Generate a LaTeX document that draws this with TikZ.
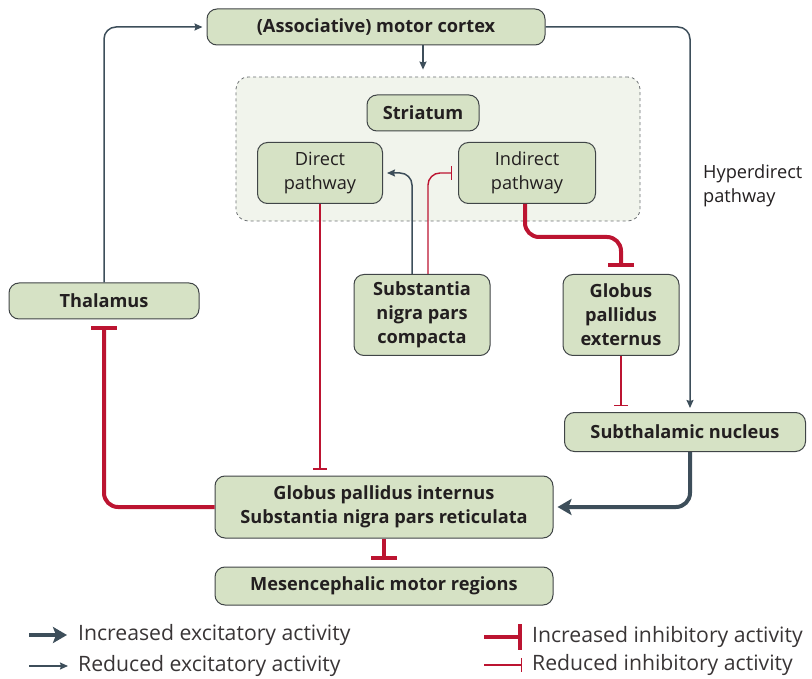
\documentclass[tikz,border=0pt]{standalone}
\usepackage{fontspec}
\setmainfont{Open Sans}
\usetikzlibrary{arrows.meta}
\definecolor{BoxFill}{HTML}{D6E2C5}
\definecolor{BoxLine}{HTML}{404547}
\definecolor{ZoneFill}{HTML}{F1F4EC}
\definecolor{ZoneLine}{HTML}{6B6F72}
\definecolor{Excite}{HTML}{3D4E5A}
\definecolor{Inhibit}{HTML}{BC1431}
\definecolor{Ink}{HTML}{231F20}
\tikzset{
  region/.style={rectangle, rounded corners=10pt, draw=BoxLine, line width=1pt,
    fill=BoxFill, align=center, inner sep=0pt, text=Ink,
    font=\bfseries\fontsize{18.2}{24}\selectfont},
  route/.style={region, font=\fontsize{18.2}{24}\selectfont},
  zone/.style={rectangle, rounded corners=12pt, draw=ZoneLine, dashed,
    line width=0.8pt, fill=ZoneFill},
  exstrong/.style={-{Stealth[length=14pt,width=16pt,inset=3pt]}, line width=4pt,
    draw=Excite, rounded corners=14pt, shorten >=4pt},
  exweak/.style={-{Stealth[length=8pt,width=7pt,inset=1pt]}, line width=1.5pt,
    draw=Excite, rounded corners=12pt, shorten >=4pt},
  instrong/.style={-{Bar[width=26pt]}, line width=4pt, draw=Inhibit,
    rounded corners=14pt, shorten >=7pt},
  inweak/.style={-{Bar[width=14pt]}, line width=1.4pt, draw=Inhibit,
    rounded corners=12pt, shorten >=6pt},
  legend/.style={anchor=west, inner sep=0pt, text=Ink!90,
    font=\fontsize{21.2}{24}\selectfont}
}
\begin{document}
\begin{tikzpicture}[x=1pt, y={(0pt,-1pt)}]
  \useasboundingbox (0,0) rectangle (812,679);

  \node[zone, minimum width=404pt, minimum height=144pt] (zone) at (438,149) {};
  \node[region, minimum width=338pt, minimum height=36pt] (cortex) at (376,27) {(Associative) motor cortex};
  \node[region, minimum width=112pt, minimum height=36pt] (striatum) at (423,113) {Striatum};
  \node[route, minimum width=125pt, minimum height=61pt] (direct) at (320,173) {Direct\\pathway};
  \node[route, minimum width=137pt, minimum height=61pt] (indirect) at (527,173) {Indirect\\pathway};
  \node[region, minimum width=190pt, minimum height=36pt] (thalamus) at (104,301) {Thalamus};
  \node[region, minimum width=136pt, minimum height=81pt] (snc) at (422,315) {Substantia\\nigra pars\\compacta};
  \node[region, minimum width=116pt, minimum height=81pt] (gpe) at (621,315) {Globus\\pallidus\\externus};
  \node[region, minimum width=241pt, minimum height=39pt] (stn) at (685,432) {Subthalamic nucleus};
  \node[region, minimum width=338pt, minimum height=62pt] (gpi) at (384,507) {Globus pallidus internus\\Substantia nigra pars reticulata};
  \node[region, minimum width=338pt, minimum height=38pt] (mesen) at (384,586) {Mesencephalic motor regions};
  \node[anchor=west, align=left, inner sep=0pt, text=Ink, font=\fontsize{18.2}{24}\selectfont] (hyper) at (703,186) {Hyperdirect\\pathway};

  \draw[exweak] (cortex.south -| striatum.north) -- ([yshift=3pt]zone.north -| striatum.north);
  \draw[exweak] (thalamus.north) |- (cortex.west);
  \draw[exweak] (cortex.east) -| ([xshift=5pt]stn.north);
  \draw[inweak] (direct.south) -- (direct.south |- gpi.north);
  \draw[exweak] ([xshift=-10pt]snc.north) |- (direct.east);
  \draw[inweak] ([xshift=6pt]snc.north) |- (indirect.west);
  \draw[instrong] ([xshift=-2pt]indirect.south) -- ++(0,33) -| (gpe.north);
  \draw[inweak] (gpe.south) -- (gpe.south |- stn.north);
  \draw[exstrong] ([xshift=5pt]stn.south) |- (gpi.east);
  \draw[instrong] (gpi.west) -| (thalamus.south);
  \draw[instrong] (gpi.south) -- (mesen.north);

  % key
  \coordinate (keyA) at (29,635);
  \coordinate (keyB) at (29,666);
  \coordinate (keyC) at (484,637);
  \coordinate (keyD) at (484,665);
  \node[legend] (keyAtext) at (78,635) {Increased excitatory activity};
  \node[legend] (keyBtext) at (78,666) {Reduced excitatory activity};
  \node[legend] (keyCtext) at (532,637) {Increased inhibitory activity};
  \node[legend] (keyDtext) at (532,665) {Reduced inhibitory activity};
  \draw[exstrong, shorten >=0pt] (keyA) -- ([xshift=-11pt]keyAtext.west);
  \draw[exweak, shorten >=0pt] (keyB) -- ([xshift=-10pt]keyBtext.west);
  \draw[instrong, shorten >=0pt] (keyC) -- ([xshift=-10pt]keyCtext.west);
  \draw[inweak, shorten >=0pt] (keyD) -- ([xshift=-10pt]keyDtext.west);
\end{tikzpicture}
\end{document}
